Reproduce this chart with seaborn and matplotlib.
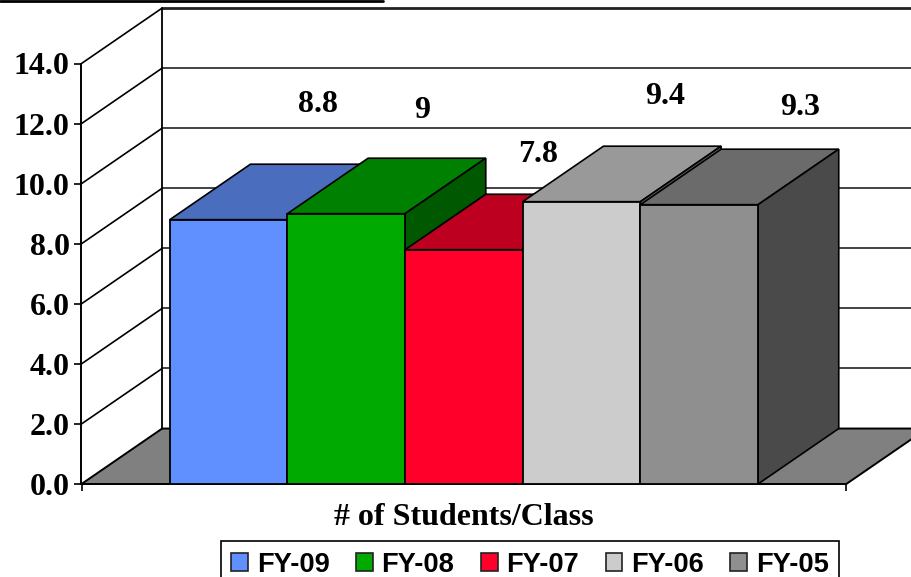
import pandas as pd
import matplotlib
matplotlib.use("Agg")
import matplotlib.pyplot as plt
import seaborn as sns
from matplotlib.lines import Line2D
from matplotlib.patches import Patch, Polygon

# 1) Data
years = ['FY-09', 'FY-08', 'FY-07', 'FY-06', 'FY-05']
students = [8.8, 9, 7.8, 9.4, 9.3]
y_ticks = [0, 2, 4, 6, 8, 10, 12, 14]

# Colours per bar: front, top, side
front_cols = ['#6090FF', '#00AA00', '#FF002B', '#CCCCCC', '#8F8F8F']
top_cols = ['#4A6DBD', '#008000', '#BD0020', '#999999', '#6B6B6B']
side_cols = ['#304A80', '#005800', '#800015', '#666666', '#4A4A4A']
# Where the value labels float, pixels from the front top edge of each bar
label_offsets = [(89, 115), (76, 103), (74, 95), (84, 105), (101, 97)]

W, H = 912, 577
SERIF = 'Liberation Serif'
SANS = 'Liberation Sans'

sns.set_theme(style="ticks")
plt.rcParams['font.family'] = [SERIF, 'DejaVu Serif']

df = pd.DataFrame({'year': years, 'students': students})

fig = plt.figure(figsize=(W / 100, H / 100), dpi=100)
ax = fig.add_axes([81.5 / W, 1 - 484 / H, (846.3 - 81.5) / W, (484 - 63.5) / H])
ax.patch.set_alpha(0)

sns.barplot(data=df, x='year', y='students', hue='year', hue_order=years,
            palette=dict(zip(years, front_cols)), saturation=1, width=1,
            edgecolor='black', linewidth=1.3, legend=False, ax=ax)

x_lo, x_hi = -1.25, 5.25
ax.set_xlim(x_lo, x_hi)
ax.set_ylim(0, 14)

# Fake 3D depth, in data units
dx = 80.7 / 117.66
dy = 55.5 / 30.05

# Floor and back wall
ax.add_patch(Polygon([(x_lo, 0), (x_lo + dx, dy), (x_hi + dx, dy), (x_hi, 0)],
                     closed=True, facecolor='#808080', edgecolor='black',
                     linewidth=1.4, clip_on=False, zorder=1))
for v in y_ticks[1:]:
    ax.plot([x_lo, x_lo + dx], [v, v + dy], color='black', linewidth=1.2,
            clip_on=False, zorder=1.5)
    ax.plot([x_lo + dx, x_hi + dx], [v + dy, v + dy],
            color='#222222', linewidth=2 if v == 14 else 1.2,
            clip_on=False, zorder=1.5)
ax.plot([x_lo + dx, x_lo + dx], [dy, 14 + dy], color='black', linewidth=1.3,
        clip_on=False, zorder=1.5)

# Bars go left to right so each one paints over its left neighbour
for i, bar in enumerate(list(ax.patches)[:len(years)]):
    x0, x1 = bar.get_x(), bar.get_x() + bar.get_width()
    top = bar.get_height()
    ax.add_patch(Polygon([(x0, top), (x0 + dx, top + dy), (x1 + dx, top + dy), (x1, top)],
                         closed=True, facecolor=top_cols[i], edgecolor='black',
                         linewidth=1.2, clip_on=False, zorder=5 + i))
    ax.add_patch(Polygon([(x1, 0), (x1 + dx, dy), (x1 + dx, top + dy), (x1, top)],
                         closed=True, facecolor=side_cols[i], edgecolor='black',
                         linewidth=1.2, clip_on=False, zorder=5 + i))
    bar.set_zorder(5.5 + i)
    bar.set_clip_on(False)

    ax.annotate(f'{students[i]:g}', xy=(i, top), xytext=label_offsets[i],
                textcoords='offset pixels', ha='center', va='center',
                fontsize=23, fontweight='bold', color='black',
                annotation_clip=False, zorder=20)

# Axes
ax.set_yticks(y_ticks)
ax.set_yticklabels([f'{v:.1f}' for v in y_ticks], fontsize=23, fontweight='bold',
                   color='black')
ax.set_xticks([x_lo, x_hi])
ax.set_xticklabels(['', ''])
ax.tick_params(axis='both', length=5, width=1.2, color='black', direction='out', pad=3.5)
ax.set_xlabel('# of Students/Class', fontsize=23, fontweight='bold', color='black',
              labelpad=5)
ax.set_ylabel('')
sns.despine(ax=ax, top=True, right=True)
for side in ['left', 'bottom']:
    ax.spines[side].set_color('black')
    ax.spines[side].set_linewidth(1.4)

# Legend, its bottom edge runs off the figure like the original
handles = [Patch(facecolor=c, edgecolor='#222222', linewidth=1.2, label=y)
           for y, c in zip(years, front_cols)]
leg = ax.legend(handles=handles, ncol=5, loc='center',
                bbox_to_anchor=(530 / W, 1 - 564.5 / H), bbox_transform=fig.transFigure,
                prop={'family': SANS, 'weight': 'bold', 'size': 19.6},
                labelcolor='black',
                frameon=True, fancybox=False, framealpha=1, edgecolor='black',
                handlelength=0.62, handleheight=0.6, handletextpad=0.32,
                columnspacing=0.97, borderpad=0.38, borderaxespad=0)
leg.get_frame().set_linewidth(1.2)
leg.set_zorder(30)

# Clipped border line at the very top of the slide
fig.add_artist(Line2D([0, 382.7 / W], [1 - 1 / H, 1 - 1 / H], color='black', linewidth=2))

fig.savefig('out.png', dpi=100)
